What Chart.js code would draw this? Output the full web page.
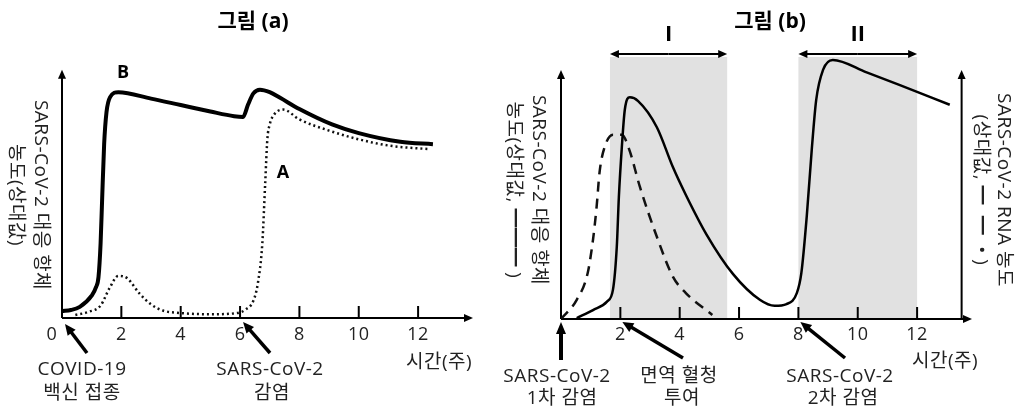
<!DOCTYPE html>
<html lang="ko">
<head>
<meta charset="UTF-8">
<title>그림 (a), 그림 (b)</title>
<script src="https://cdn.jsdelivr.net/npm/chart.js"></script>
<style>
  body { margin: 0; background: #fff; }
  .wrap { position: relative; width: 1016px; height: 409px; }
  #chartA { position: absolute; left: 0; top: 0; }
  #chartB { position: absolute; left: 500px; top: 0; }
</style>
</head>
<body>
<div class="wrap">
  <canvas id="chartA" width="500" height="409"></canvas>
  <canvas id="chartB" width="516" height="409"></canvas>
</div>
<script>
// ---- data (weeks, relative values) ----
const tickWeeks = [2, 4, 6, 8, 10, 12];
const tickLabels = ['2', '4', '6', '8', '10', '12'];

// 그림 (a): B = solid, A = dotted
const bWeeks = [0, 0.3, 0.6, 1.0, 1.15, 1.23, 1.3, 1.35, 1.42, 1.5, 1.62, 1.9, 3, 4, 5, 5.8, 6.1, 6.27, 6.45, 6.67, 7.0, 7.35, 8.0, 9.1, 10.0, 11.4, 12.5];
const bValues = [2.8, 3.2, 4.5, 9, 12.5, 16.5, 30, 47, 70, 83, 89, 91, 88.4, 85.8, 83.2, 81.3, 81, 86, 90.5, 92, 91, 88.7, 84.2, 78, 74.5, 71, 70];
const aWeeks = [0.45, 0.9, 1.3, 1.6, 1.9, 2.2, 2.6, 3.0, 3.4, 4, 5, 5.9, 6.2, 6.45, 6.6, 6.75, 6.85, 6.92, 7.0, 7.15, 7.45, 8, 9, 10, 11, 12.4];
const aValues = [1.2, 2.5, 5, 12, 17, 16, 10, 5.5, 3, 2, 1.5, 2, 3.5, 7, 14, 30, 55, 72, 78, 82, 84, 80, 75.5, 72, 69.5, 68];

// 그림 (b): antibody = solid, RNA = dashed
const abWeeks = [0.53, 1.08, 1.55, 1.75, 1.88, 1.95, 2.05, 2.15, 2.32, 2.6, 3.23, 3.77, 4.2, 4.9, 5.8, 6.7, 7.2, 7.6, 7.95, 8.1, 8.28, 8.45, 8.6, 8.83, 9.16, 10.3, 11.4, 13.1];
const abValues = [0.4, 3.6, 7, 11.7, 29, 49, 69, 84, 89, 87.5, 77, 61, 50, 34, 18, 7.7, 5.3, 6, 10.5, 18.5, 41, 68, 88, 100, 104, 99, 94, 86];
const rnaWeeks = [0, 0.53, 0.9, 1.08, 1.2, 1.3, 1.47, 1.75, 2.05, 2.3, 2.66, 3.23, 3.77, 4.2, 5.1];
const rnaValues = [0, 7.7, 18.5, 32, 45, 59, 69, 74, 74, 68, 53, 33, 17, 10.5, 1.6];

// shaded phases in 그림 (b)
const phaseLabels = ['I', 'II'];
const phaseStart = [1.65, 8.0];
const phaseEnd = [5.6, 12.0];

const FONT = '"Open Sans", "Noto Sans CJK KR", sans-serif';

function pts(xs, ys) {
  return xs.map((x, i) => ({ x: x, y: ys[i] }));
}

function line(ctx, x1, y1, x2, y2, w) {
  ctx.beginPath();
  ctx.lineWidth = w;
  ctx.moveTo(x1, y1);
  ctx.lineTo(x2, y2);
  ctx.stroke();
}

function head(ctx, x1, y1, x2, y2, len, wid) {
  const a = Math.atan2(y2 - y1, x2 - x1);
  ctx.beginPath();
  ctx.moveTo(x2, y2);
  ctx.lineTo(x2 - len * Math.cos(a) + wid * Math.sin(a), y2 - len * Math.sin(a) - wid * Math.cos(a));
  ctx.lineTo(x2 - len * Math.cos(a) - wid * Math.sin(a), y2 - len * Math.sin(a) + wid * Math.cos(a));
  ctx.closePath();
  ctx.fill();
}

function arrow(ctx, x1, y1, x2, y2, w, len, wid) {
  const a = Math.atan2(y2 - y1, x2 - x1);
  line(ctx, x1, y1, x2 - (len - 1) * Math.cos(a), y2 - (len - 1) * Math.sin(a), w);
  head(ctx, x1, y1, x2, y2, len, wid);
}

function text(ctx, s, x, y, size, bold) {
  ctx.font = (bold ? 'bold ' : '') + size + 'px ' + FONT;
  ctx.textAlign = 'center';
  ctx.textBaseline = 'middle';
  ctx.letterSpacing = bold ? '0px' : '0.5px';
  ctx.fillText(s, x, y);
  ctx.letterSpacing = '0px';
}

// vertical text read top to bottom, first line on the right
function vText(ctx, lines, x, y, gap, size) {
  ctx.save();
  ctx.translate(x, y);
  ctx.rotate(Math.PI / 2);
  ctx.font = size + 'px ' + FONT;
  ctx.textAlign = 'center';
  ctx.textBaseline = 'middle';
  ctx.letterSpacing = '0.5px';
  lines.forEach((s, i) => ctx.fillText(s, 0, i * gap));
  ctx.restore();
}

function axes(chart, rightAxis) {
  const ctx = chart.ctx, xs = chart.scales.x, ys = chart.scales.y;
  const x0 = xs.getPixelForValue(0), y0 = ys.getPixelForValue(0);
  const yTop = ys.getPixelForValue(100), xEnd = xs.getPixelForValue(xs.max);
  ctx.save();
  ctx.strokeStyle = '#000';
  ctx.fillStyle = '#000';
  arrow(ctx, x0, y0, x0, yTop, 2, 9, 4);
  arrow(ctx, x0, y0, xEnd, y0, 2, 9, 4);
  if (rightAxis !== undefined) {
    const xr = xs.getPixelForValue(rightAxis);
    arrow(ctx, xr, y0, xr, yTop, 2, 9, 4);
  }
  tickWeeks.forEach(w => {
    const px = xs.getPixelForValue(w);
    line(ctx, px, y0, px, y0 - 12, 2);
  });
  ctx.fillStyle = '#222';
  tickWeeks.forEach((w, i) => text(ctx, tickLabels[i], xs.getPixelForValue(w), 335, 18));
  ctx.restore();
}

const baseOptions = (padRight, padBottom) => ({
  responsive: false,
  animation: false,
  layout: { padding: { left: 0, right: padRight, top: 45, bottom: padBottom } },
  plugins: { legend: { display: false }, tooltip: { enabled: false } },
  elements: { point: { radius: 0 } },
  scales: {
    x: { type: 'linear', min: 0, max: 13.85, display: false },
    y: { min: 0, max: 110, display: false }
  }
});

// ---- 그림 (a) ----
const optsA = baseOptions(27, 91);
optsA.layout.padding.left = 62;
new Chart(document.getElementById('chartA'), {
  type: 'line',
  data: {
    datasets: [
      { label: 'B', data: pts(bWeeks, bValues), borderColor: '#000', borderWidth: 4, cubicInterpolationMode: 'monotone', fill: false },
      { label: 'A', data: pts(aWeeks, aValues), borderColor: '#111', borderWidth: 2.5, borderDash: [2, 3], cubicInterpolationMode: 'monotone', fill: false }
    ]
  },
  options: optsA,
  plugins: [{
    id: 'decoA',
    beforeDatasetsDraw(chart) { axes(chart); },
    afterDraw(chart) {
      const ctx = chart.ctx, xs = chart.scales.x, ys = chart.scales.y;
      const y0 = ys.getPixelForValue(0);
      ctx.save();
      ctx.fillStyle = '#000';
      ctx.strokeStyle = '#000';
      text(ctx, '그림 (a)', 253, 22, 21, true);
      text(ctx, 'B', 123, 73, 18, true);
      text(ctx, 'A', 283, 173, 18, true);
      ctx.fillStyle = '#222';
      text(ctx, '0', 52, 335, 18);
      text(ctx, '시간(주)', 439, 363, 19);
      vText(ctx, ['SARS-CoV-2 대응 항체', '농도(상대값)'], 40, 195, 25, 19);
      // annotations
      ctx.fillStyle = '#000';
      arrow(ctx, 87, 353, xs.getPixelForValue(0) + 3, y0 + 6, 3.5, 11, 5);
      arrow(ctx, 270, 353, xs.getPixelForValue(6) + 3, y0 + 4, 3.5, 11, 5);
      ctx.fillStyle = '#222';
      text(ctx, 'COVID-19', 82, 370, 19);
      text(ctx, '백신 접종', 82, 394, 19);
      text(ctx, 'SARS-CoV-2', 270, 370, 19);
      text(ctx, '감염', 272, 394, 19);
      ctx.restore();
    }
  }]
});

// ---- 그림 (b) ----
const optsB = baseOptions(44, 90);
optsB.layout.padding.left = 61;
new Chart(document.getElementById('chartB'), {
  type: 'line',
  data: {
    datasets: [
      { label: 'antibody', data: pts(abWeeks, abValues), borderColor: '#000', borderWidth: 2.5, cubicInterpolationMode: 'monotone', fill: false },
      { label: 'RNA', data: pts(rnaWeeks, rnaValues), borderColor: '#111', borderWidth: 2.5, borderDash: [10, 7], cubicInterpolationMode: 'monotone', fill: false }
    ]
  },
  options: optsB,
  plugins: [{
    id: 'decoB',
    beforeDatasetsDraw(chart) {
      const ctx = chart.ctx, xs = chart.scales.x, ys = chart.scales.y;
      const y0 = ys.getPixelForValue(0);
      ctx.save();
      ctx.fillStyle = '#e1e1e1';
      phaseStart.forEach((s, i) => {
        const l = xs.getPixelForValue(s), r = xs.getPixelForValue(phaseEnd[i]);
        ctx.fillRect(l, 57, r - l, y0 - 57);
      });
      ctx.restore();
      axes(chart, 13.5);
    },
    afterDraw(chart) {
      const ctx = chart.ctx, xs = chart.scales.x, ys = chart.scales.y;
      const y0 = ys.getPixelForValue(0);
      ctx.save();
      ctx.fillStyle = '#000';
      ctx.strokeStyle = '#000';
      text(ctx, '그림 (b)', 270, 22, 21, true);
      phaseStart.forEach((s, i) => {
        const l = xs.getPixelForValue(s), r = xs.getPixelForValue(phaseEnd[i]);
        const m = (l + r) / 2;
        arrow(ctx, m, 54, l, 54, 2, 9, 4);
        arrow(ctx, m, 54, r, 54, 2, 9, 4);
        text(ctx, phaseLabels[i], m, 35, 22, true);
      });
      ctx.fillStyle = '#222';
      text(ctx, '시간(주)', 445, 362, 19);
      vText(ctx, ['SARS-CoV-2 대응 항체', '농도(상대값, ━━━ )'], 38, 190, 25, 19);
      vText(ctx, ['SARS-CoV-2 RNA 농도', '(상대값, ━  ━  • )'], 503, 190, 23, 19);
      // annotations
      ctx.fillStyle = '#000';
      arrow(ctx, 61, 360, xs.getPixelForValue(0), y0 + 3, 4, 12, 5);
      arrow(ctx, 183, 358, xs.getPixelForValue(2) + 2, y0 + 3, 3.5, 11, 5);
      arrow(ctx, 345, 358, xs.getPixelForValue(8) + 2, y0 + 3, 3.5, 11, 5);
      ctx.fillStyle = '#222';
      text(ctx, 'SARS-CoV-2', 57, 377, 19);
      text(ctx, '1차 감염', 62, 399, 19);
      text(ctx, '면역 혈청', 179, 377, 19);
      text(ctx, '투여', 182, 399, 19);
      text(ctx, 'SARS-CoV-2', 340, 377, 19);
      text(ctx, '2차 감염', 343, 399, 19);
      ctx.restore();
    }
  }]
});
</script>
</body>
</html>
